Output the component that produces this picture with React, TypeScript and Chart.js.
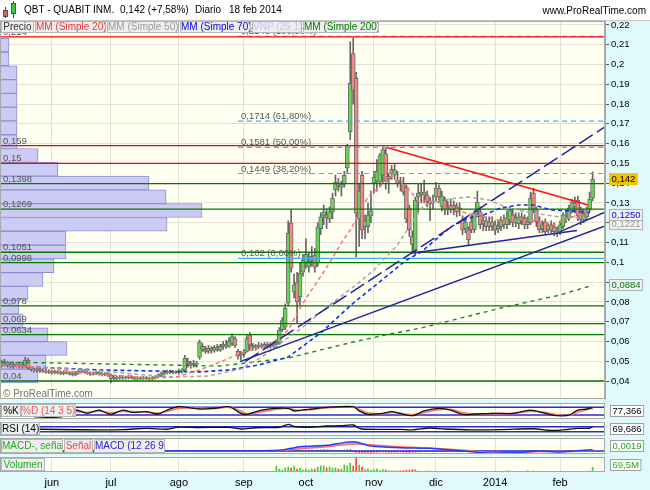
import React, { useEffect, useRef } from "react";
import { Chart, registerables } from "chart.js";

Chart.register(...registerables);

const FONT = '"Liberation Sans", Arial, Helvetica, sans-serif';
Chart.defaults.font.family = FONT;
const BG_PLOT = "#fffff2";
const BG_AXIS = "#e0f9fb";

// ---------- time axis ----------
const monthIdx = [17, 37, 60, 82, 103, 126, 147, 167, 189];
const monthLabels = ["jun", "jul", "ago", "sep", "oct", "nov", "dic", "2014", "feb"];
const X_MIN = -0.52;
const X_MAX = 204.2;

// ---------- price axis ----------
const Y_MIN = 0.0309;
const Y_MAX = 0.222;
const priceTicks = [0.04, 0.05, 0.06, 0.07, 0.08, 0.09, 0.1, 0.11, 0.12, 0.13, 0.14, 0.15, 0.16, 0.17, 0.18, 0.19, 0.2, 0.21, 0.22];
const priceTickLabels = ["0,04", "0,05", "0,06", "0,07", "0,08", "0,09", "0,1", "0,11", "0,12", "0,13", "0,14", "0,15", "0,16", "0,17", "0,18", "0,19", "0,2", "0,21", "0,22"];

// ---------- daily OHLC (9 may 2013 .. 18 feb 2014) ----------
const opens = [
  0.049, 0.0485, 0.0495, 0.048, 0.0475, 0.0485, 0.048, 0.0475, 0.048, 0.0505,
  0.0465, 0.046, 0.0455, 0.0458, 0.045, 0.0452, 0.0445, 0.0448, 0.0442, 0.0447,
  0.0443, 0.0438, 0.0445, 0.0443, 0.0437, 0.0432, 0.044, 0.0448, 0.0452, 0.0445,
  0.044, 0.0435, 0.0439, 0.0442, 0.0436, 0.0433, 0.0437, 0.0431, 0.0412, 0.0418,
  0.0414, 0.042, 0.0415, 0.0418, 0.0422, 0.0416, 0.0412, 0.0416, 0.0413, 0.0417,
  0.0414, 0.0411, 0.0415, 0.0421, 0.0428, 0.0436, 0.0443, 0.0447, 0.0442, 0.0446,
  0.0443, 0.045, 0.0456, 0.05, 0.049, 0.048, 0.049, 0.052, 0.0575, 0.056,
  0.055, 0.0565, 0.0555, 0.057, 0.0555, 0.0575, 0.0585, 0.0575, 0.059, 0.0615,
  0.055, 0.053, 0.0535, 0.055, 0.0633, 0.058, 0.057, 0.0575, 0.058, 0.0575,
  0.0585, 0.0575, 0.058, 0.0585, 0.0592, 0.066, 0.0673, 0.0794, 0.12, 0.085,
  0.09, 0.0825, 0.095, 0.1, 0.0975, 0.101, 0.1037, 0.0997, 0.117, 0.1235,
  0.124, 0.122, 0.1255, 0.1366, 0.14, 0.138, 0.1395, 0.1477, 0.166, 0.2055,
  0.193, 0.122, 0.144, 0.118, 0.118, 0.1235, 0.14, 0.141, 0.1406, 0.144,
  0.155, 0.142, 0.147, 0.144, 0.1416, 0.141, 0.14, 0.138, 0.1275, 0.113,
  0.106, 0.133, 0.1345, 0.1355, 0.134, 0.131, 0.13, 0.133, 0.1375, 0.128,
  0.1315, 0.128, 0.1265, 0.129, 0.128, 0.1265, 0.1214, 0.117, 0.1163, 0.1205,
  0.1165, 0.1255, 0.1255, 0.1195, 0.121, 0.1205, 0.118, 0.119, 0.117, 0.118,
  0.1214, 0.119, 0.1214, 0.124, 0.12, 0.1195, 0.123, 0.1224, 0.119, 0.12,
  0.135, 0.1265, 0.1205, 0.117, 0.1205, 0.119, 0.1163, 0.118, 0.1155, 0.1155,
  0.118, 0.123, 0.1225, 0.126, 0.13, 0.1315, 0.1265, 0.1214, 0.123, 0.127,
  0.1325,
];
const highs = [
  0.0505, 0.051, 0.05, 0.049, 0.0495, 0.0495, 0.049, 0.0495, 0.052, 0.0515,
  0.047, 0.0465, 0.047, 0.0465, 0.046, 0.046, 0.0458, 0.0455, 0.0455, 0.0452,
  0.0448, 0.0452, 0.0455, 0.0448, 0.0442, 0.0447, 0.0458, 0.046, 0.0458, 0.045,
  0.0446, 0.0445, 0.0449, 0.0447, 0.0442, 0.0443, 0.0441, 0.0435, 0.0425, 0.0424,
  0.0428, 0.0426, 0.0425, 0.043, 0.0428, 0.0422, 0.0422, 0.0422, 0.0424, 0.0423,
  0.042, 0.0422, 0.0428, 0.0436, 0.0445, 0.045, 0.0455, 0.0455, 0.0453, 0.0452,
  0.046, 0.0462, 0.053, 0.0515, 0.05, 0.0505, 0.05, 0.0607, 0.059, 0.0575,
  0.058, 0.0575, 0.058, 0.0585, 0.0585, 0.06, 0.0605, 0.062, 0.064, 0.0625,
  0.056, 0.055, 0.056, 0.063, 0.0645, 0.059, 0.0585, 0.0595, 0.059, 0.0595,
  0.0595, 0.0595, 0.06, 0.061, 0.067, 0.072, 0.079, 0.121, 0.1265, 0.094,
  0.095, 0.1, 0.104, 0.112, 0.105, 0.108, 0.107, 0.12, 0.125, 0.129,
  0.127, 0.128, 0.135, 0.1441, 0.1425, 0.141, 0.146, 0.1597, 0.2115, 0.2134,
  0.196, 0.14, 0.146, 0.124, 0.13, 0.136, 0.146, 0.152, 0.155, 0.1585,
  0.158, 0.145, 0.149, 0.15, 0.146, 0.143, 0.143, 0.139, 0.129, 0.116,
  0.133, 0.1395, 0.14, 0.1416, 0.136, 0.133, 0.134, 0.1405, 0.139, 0.136,
  0.133, 0.131, 0.132, 0.131, 0.13, 0.13, 0.1235, 0.122, 0.118, 0.124,
  0.126, 0.136, 0.128, 0.124, 0.123, 0.123, 0.123, 0.121, 0.121, 0.123,
  0.124, 0.126, 0.128, 0.127, 0.125, 0.125, 0.125, 0.124, 0.123, 0.1355,
  0.1375, 0.128, 0.123, 0.121, 0.122, 0.12, 0.121, 0.12, 0.118, 0.121,
  0.125, 0.126, 0.129, 0.132, 0.133, 0.1335, 0.128, 0.127, 0.128, 0.1355,
  0.1457,
];
const lows = [
  0.047, 0.0475, 0.047, 0.0465, 0.0465, 0.047, 0.0465, 0.0465, 0.0475, 0.046,
  0.045, 0.0445, 0.0445, 0.0442, 0.0443, 0.0438, 0.0438, 0.0435, 0.0436, 0.0436,
  0.0432, 0.0432, 0.0435, 0.043, 0.0425, 0.0427, 0.0435, 0.0442, 0.044, 0.0434,
  0.0428, 0.043, 0.0432, 0.043, 0.0426, 0.0427, 0.0423, 0.039, 0.0405, 0.0406,
  0.0408, 0.0408, 0.0408, 0.041, 0.041, 0.0405, 0.0404, 0.0406, 0.0407, 0.0408,
  0.0404, 0.0405, 0.041, 0.0415, 0.0422, 0.043, 0.0436, 0.0436, 0.0436, 0.0437,
  0.0435, 0.044, 0.045, 0.047, 0.0465, 0.047, 0.047, 0.051, 0.055, 0.054,
  0.054, 0.054, 0.0545, 0.055, 0.055, 0.056, 0.0565, 0.057, 0.058, 0.057,
  0.051, 0.0505, 0.052, 0.0545, 0.0555, 0.0555, 0.0555, 0.0565, 0.0565, 0.0565,
  0.0565, 0.0565, 0.057, 0.057, 0.0585, 0.065, 0.066, 0.078, 0.095, 0.082,
  0.069, 0.078, 0.093, 0.097, 0.095, 0.098, 0.095, 0.098, 0.114, 0.119,
  0.117, 0.12, 0.122, 0.1335, 0.136, 0.1335, 0.138, 0.145, 0.162, 0.18,
  0.1027, 0.108, 0.112, 0.112, 0.115, 0.12, 0.135, 0.136, 0.138, 0.14,
  0.137, 0.135, 0.142, 0.142, 0.138, 0.136, 0.134, 0.12, 0.113, 0.1045,
  0.104, 0.1255, 0.13, 0.13, 0.128, 0.121, 0.127, 0.131, 0.13, 0.126,
  0.124, 0.124, 0.125, 0.124, 0.123, 0.1235, 0.114, 0.115, 0.1088, 0.115,
  0.115, 0.124, 0.117, 0.116, 0.116, 0.116, 0.116, 0.114, 0.115, 0.116,
  0.117, 0.117, 0.119, 0.118, 0.118, 0.117, 0.119, 0.117, 0.117, 0.119,
  0.125, 0.118, 0.115, 0.115, 0.114, 0.115, 0.115, 0.1135, 0.113, 0.114,
  0.117, 0.12, 0.121, 0.125, 0.125, 0.121, 0.119, 0.12, 0.121, 0.1255,
  0.131,
];
const closes = [
  0.0485, 0.0495, 0.048, 0.0475, 0.0485, 0.048, 0.0475, 0.048, 0.0505, 0.0465,
  0.046, 0.0455, 0.0458, 0.045, 0.0452, 0.0445, 0.0448, 0.0442, 0.0447, 0.0443,
  0.0438, 0.0445, 0.0443, 0.0437, 0.0432, 0.044, 0.0448, 0.0452, 0.0445, 0.044,
  0.0435, 0.0439, 0.0442, 0.0436, 0.0433, 0.0437, 0.0431, 0.0412, 0.0418, 0.0414,
  0.042, 0.0415, 0.0418, 0.0422, 0.0416, 0.0412, 0.0416, 0.0413, 0.0417, 0.0414,
  0.0411, 0.0415, 0.0421, 0.0428, 0.0436, 0.0443, 0.0447, 0.0442, 0.0446, 0.0443,
  0.045, 0.0455, 0.0516, 0.049, 0.048, 0.049, 0.0485, 0.0597, 0.056, 0.055,
  0.0565, 0.0555, 0.057, 0.056, 0.0575, 0.0585, 0.0575, 0.06, 0.0625, 0.058,
  0.0525, 0.0535, 0.0545, 0.0615, 0.0582, 0.057, 0.0575, 0.058, 0.0575, 0.0585,
  0.0575, 0.0585, 0.0585, 0.059, 0.0658, 0.0705, 0.0769, 0.1148, 0.097, 0.0885,
  0.08, 0.0946, 0.101, 0.104, 0.1005, 0.103, 0.0976, 0.118, 0.123, 0.1255,
  0.1225, 0.1255, 0.1325, 0.1406, 0.1385, 0.1395, 0.1441, 0.1593, 0.1905, 0.187,
  0.125, 0.136, 0.1163, 0.121, 0.124, 0.126, 0.143, 0.146, 0.154, 0.157,
  0.141, 0.1435, 0.145, 0.1467, 0.14, 0.1405, 0.1355, 0.122, 0.1165, 0.109,
  0.1315, 0.135, 0.1355, 0.134, 0.1305, 0.1295, 0.131, 0.1375, 0.133, 0.1335,
  0.1265, 0.1265, 0.129, 0.127, 0.1255, 0.1275, 0.1163, 0.1205, 0.1113, 0.1165,
  0.125, 0.1305, 0.119, 0.121, 0.118, 0.118, 0.1205, 0.1163, 0.1185, 0.1214,
  0.119, 0.1225, 0.1265, 0.12, 0.1225, 0.123, 0.121, 0.119, 0.1205, 0.1325,
  0.127, 0.1205, 0.1165, 0.119, 0.1155, 0.1163, 0.119, 0.1155, 0.116, 0.119,
  0.124, 0.1225, 0.1275, 0.1305, 0.128, 0.1234, 0.1214, 0.1245, 0.126, 0.132,
  0.142,
];
// volume, millions of shares
const volumes = [
  4, 3, 5, 3, 4, 3, 3, 4, 6, 18,
  3, 4, 3, 2, 3, 4, 3, 3, 2, 3,
  4, 3, 3, 2, 3, 3, 4, 3, 2, 3,
  3, 4, 3, 3, 2, 3, 3, 4, 3, 2,
  3, 3, 4, 3, 2, 3, 3, 4, 3, 3,
  2, 3, 3, 4, 10, 6, 4, 4, 5, 4,
  4, 5, 14, 5, 4, 4, 5, 12, 5, 4,
  6, 4, 5, 4, 6, 5, 4, 6, 8, 6,
  12, 5, 4, 6, 5, 4, 5, 6, 4, 5,
  6, 5, 8, 90, 45, 30, 60, 75, 60, 90,
  45, 60, 30, 45, 30, 45, 45, 75, 90, 90,
  60, 75, 60, 60, 45, 45, 105, 90, 133, 90,
  205, 105, 75, 37, 45, 30, 37, 45, 22, 37,
  30, 20, 15, 20, 15, 18, 20, 30, 30, 37,
  37, 15, 12, 10, 12, 14, 10, 12, 10, 8,
  10, 8, 6, 8, 6, 8, 6, 5, 12, 6,
  5, 8, 5, 4, 5, 4, 3, 5, 4, 6,
  8, 18, 12, 6, 5, 4, 5, 6, 20, 6,
  14, 8, 6, 12, 5, 5, 4, 6, 5, 8,
  10, 6, 8, 10, 8, 6, 8, 10, 12, 16,
  69.5,
];

// ---------- moving averages ----------
const ma20Idx = [0, 16, 27, 37, 50, 59, 67, 74, 82, 91, 97, 102, 111, 115, 118, 124, 132, 137, 141, 148, 156, 168, 179, 187, 192, 200];
const ma20Val = [0.048, 0.0466, 0.044, 0.043, 0.0415, 0.042, 0.0456, 0.0496, 0.0547, 0.0582, 0.0658, 0.0794, 0.0997, 0.1098, 0.1163, 0.133, 0.1435, 0.138, 0.1315, 0.1305, 0.1254, 0.1214, 0.1214, 0.1189, 0.1224, 0.1265];
const ma50Idx = [0, 33, 57, 70, 81, 88, 102, 111, 119, 126, 134, 139, 143, 148, 158, 165, 171, 180, 189, 200];
const ma50Val = [0.0481, 0.0451, 0.042, 0.0425, 0.0461, 0.0521, 0.0673, 0.0784, 0.0875, 0.0961, 0.1088, 0.1204, 0.129, 0.1315, 0.133, 0.1315, 0.1275, 0.1249, 0.1229, 0.1221];
const ma70Idx = [0, 10, 33, 67, 77, 87, 97, 108, 119, 130, 137, 142, 146, 152, 158, 163, 169, 175, 180, 186, 192, 200];
const ma70Val = [0.0481, 0.0471, 0.0456, 0.0446, 0.0456, 0.0481, 0.0521, 0.0643, 0.0794, 0.0926, 0.1012, 0.1052, 0.1103, 0.1179, 0.1224, 0.1239, 0.1275, 0.129, 0.129, 0.1265, 0.126, 0.125];
const ma200Idx = [0, 37, 74, 97, 108, 119, 130, 142, 169, 189, 200];
const ma200Val = [0.0496, 0.0486, 0.0476, 0.0516, 0.0557, 0.0597, 0.0633, 0.0668, 0.0769, 0.0835, 0.0884];

// ---------- horizontal levels ----------
const hLevels = [0.214, 0.159, 0.15, 0.1398, 0.1269, 0.1051, 0.0998, 0.078, 0.069, 0.0634, 0.04];
const hColors = ["#ff0000", "#ff0000", "#ff0000", "#007a00", "#007a00", "#007a00", "#007a00", "#007a00", "#007a00", "#007a00", "#007a00"];

// ---------- Fibonacci retracement ----------
const fibStartIdx = 80;
const fibLevels = [0.2143, 0.1714, 0.1581, 0.1449, 0.102];
const fibPct = ["100,00%", "61,80%", "50,00%", "38,20%", "0,00%"];

// ---------- trend lines ----------
const trendFromIdx = [80.7, 82.4, 139.3, 189, 130.4];
const trendFromVal = [0.0498, 0.0498, 0.1047, 0.1155, 0.158];
const trendToIdx = [204.2, 204.2, 194.7, 204.2, 198.5];
const trendToVal = [0.1184, 0.1685, 0.1161, 0.1254, 0.129];
const trendColors = ["#2323a0", "#2323a0", "#2323a0", "#2323a0", "#ff1010"];
const trendDashes = [[], [16, 5], [], [], []];

// ---------- volume profile (VNP 25) ----------
const profileLow = 0.039;
const profileStep = 0.006972;
const profileVol = [38, 46, 67, 48, 23, 19, 28, 43, 54, 66, 66, 167, 202, 166, 149, 58, 38, 17, 17, 17, 17, 17, 17, 9, 9];

// ---------- indicators ----------
const stochIdx = [11, 20, 25, 29, 33, 37, 41, 44, 49, 53, 56, 60, 67, 72, 77, 81, 83, 88, 93, 97, 99, 101, 105, 109, 119, 121, 124, 129, 132, 139, 143, 148, 152, 156, 160, 166, 173, 179, 184, 188, 192, 195, 198, 200];
const stochK = [7, 5, 59, 33, 59, 25, 59, 41, 46, 28, 59, 85, 67, 72, 85, 33, 25, 59, 72, 72, 52, 56, 67, 78, 85, 52, 25, 33, 46, 15, 52, 72, 59, 25, 28, 33, 33, 59, 33, 15, 20, 59, 67, 77.366];
const stochD = [9, 7, 45, 42, 50, 38, 48, 48, 44, 36, 48, 72, 74, 70, 80, 52, 32, 44, 65, 72, 62, 55, 62, 74, 82, 66, 38, 30, 40, 24, 38, 62, 64, 40, 28, 31, 33, 48, 42, 22, 18, 42, 62, 72];

const rsiIdx = [0, 13, 27, 41, 49, 56, 60, 67, 77, 81, 86, 94, 97, 99, 104, 110, 115, 119, 121, 123, 135, 139, 145, 150, 159, 169, 180, 185, 188, 192, 195, 199, 200];
const rsiVal = [50, 50, 46, 47, 57, 50, 67, 64, 65, 52, 62, 66, 89, 72, 66, 76, 78, 84, 57, 50, 49, 45, 60, 52, 45, 47, 54, 42, 41, 50, 57, 58, 69.686];

const macdIdx = [0, 20, 40, 56, 67, 81, 94, 98, 101, 110, 119, 125, 135, 145, 152, 159, 165, 175, 182, 189, 194, 200];
const macdVal = [-0.0005, -0.001, -0.001, 0, 0.0005, 0.0003, 0.001, 0.004, 0.0065, 0.0085, 0.014, 0.0075, 0.005, 0.004, 0.0015, -0.001, -0.0035, -0.002, 0, -0.0015, 0, 0.0019];
const signalVal = [-0.0004, -0.0009, -0.001, -0.0003, 0.0003, 0.0004, 0.0007, 0.0018, 0.0035, 0.0065, 0.0105, 0.0095, 0.0062, 0.0045, 0.0025, 0.0003, -0.0022, -0.0024, -0.0008, -0.0009, -0.0004, 0.0012];
const macdHist = [
  0, 0, 0, 0, 0, 0, 0, 0, 0, 0,
  -0.0004, -0.0003, -0.0005, -0.0003, -0.0004, -0.0006, -0.0003, -0.0004, -0.0003, -0.0005,
  -0.0004, -0.0003, -0.0006, -0.0004, -0.0003, -0.0004, -0.0005, -0.0003, -0.0004, -0.0006,
  -0.0003, -0.0004, -0.0005, -0.0003, -0.0004, -0.0006, -0.0004, -0.0003, -0.0005, -0.0004,
  -0.0006, -0.0004, -0.0003, -0.0005, -0.0004, -0.0003, -0.0006, -0.0004, -0.0003, -0.0002,
  -0.0002, -0.0001, -0.0001, 0, 0.0004, 0.0004, 0.0004, 0.0004, 0.0004, 0.0004,
  0.0004, 0.0004, 0.0002, 0.0003, 0.0002, 0.0001, 0.0001, 0.0003, 0.0002, 0.0001,
  0.0001, 0, 0.0001, 0, 0.0001, 0, 0, -0.0001, -0.0003, -0.0004,
  -0.0006, -0.0005, -0.0004, -0.0003, -0.0005, -0.0004, -0.0003, -0.0004, -0.0005, -0.0004,
  -0.0003, -0.0004, -0.0003, -0.0002, -0.0001, 0, 0.0015, 0.002, 0.0025, 0.002,
  0.0015, 0.0012, 0.001, 0.0012, 0.0015, 0.0012, 0.001, 0.0015, 0.002, 0.0022,
  0.002, 0.0018, 0.0015, 0.0012, 0.001, 0.0012, 0.0015, 0.002, 0.0025, -0.001,
  -0.002, -0.0025, -0.003, -0.003, -0.0028, -0.0025, -0.002, -0.0018, -0.0015, -0.0015,
  -0.0018, -0.002, -0.0022, -0.002, -0.0018, -0.0015, -0.0018, -0.0022, -0.0025, -0.002,
  -0.0018, -0.0015, -0.0012, -0.001, -0.001, -0.0008, -0.0008, -0.0005, -0.0005, -0.0005,
  -0.0005, -0.0005, -0.0005, -0.0005, -0.0005, -0.0005, -0.0005, -0.0005, -0.0005, -0.0005,
  -0.0005, -0.0005, -0.0005, -0.0005, -0.0005, -0.0005, 0, 0, 0, 0,
  0.0005, 0.0005, 0.0005, 0.0005, 0.0005, 0.0005, 0.0005, 0.0005, 0.0005, 0.0005,
  0.0005, 0.0005, 0.0005, 0.0005, 0.0005, 0.0005, -0.0004, -0.0004, -0.0004, -0.0004,
  -0.0004, 0.0005, 0.0005, 0.0005, 0.0005, 0.0005, 0.0005, 0.0005, 0.0005, 0.0005,
  0.0005,
];

// ---------- helpers ----------
const days = closes.map((_, i) => i);
const last = (a: number[]) => a[a.length - 1];
const comma = (v: number) => String(v).replace(".", ",");
const fixedComma = (v: number, d: number) => v.toFixed(d).replace(".", ",");
const hline = (v: number) => [{ x: X_MIN, y: v }, { x: X_MAX, y: v }];
const zip = (idx: number[], val: number[]) => idx.map((x, k) => ({ x, y: val[k] }));

function lineDs(data: any[], color: string, width: number, dash: number[], order: number, extra: any = {}) {
  return { type: "line", data, borderColor: color, borderWidth: width, borderDash: dash, pointRadius: 0, fill: false, order, tension: 0, ...extra };
}

function baseX(showLabels: boolean): any {
  return {
    type: "linear",
    min: X_MIN,
    max: X_MAX,
    offset: false,
    afterBuildTicks: (s: any) => {
      s.ticks = monthIdx.map((v) => ({ value: v }));
    },
    afterFit: (s: any) => {
      s.height = showLabels ? 18 : 0;
      s.paddingLeft = 0;
      s.paddingRight = 0;
    },
    grid: { color: "#e2e2d6", drawTicks: false, offset: false, lineWidth: 1 },
    border: { display: false },
    ticks: {
      display: showLabels,
      autoSkip: false,
      maxRotation: 0,
      padding: 4,
      color: "#000",
      font: { family: FONT, size: 11 },
      callback: (_v: any, i: number) => monthLabels[i],
    },
  };
}

function subY(min: number, max: number): any {
  return {
    type: "linear",
    position: "right",
    min,
    max,
    offset: false,
    ticks: { display: false },
    grid: { display: false },
    border: { display: false },
    afterFit: (s: any) => {
      s.width = 45;
      s.paddingTop = 0;
      s.paddingBottom = 0;
    },
  };
}

function common(padding: any, pluginOpts: any): any {
  return {
    responsive: false,
    animation: false,
    devicePixelRatio: 1,
    events: [],
    layout: { padding, autoPadding: false },
    plugins: { legend: { display: false }, tooltip: { enabled: false }, ...pluginOpts },
  };
}

// ---------- plugins ----------
const bgPlugin = {
  id: "panelBg",
  beforeDraw(chart: any, _a: any, opts: any) {
    const { ctx, chartArea: a, width, height } = chart;
    ctx.save();
    ctx.fillStyle = BG_AXIS;
    ctx.fillRect(0, 0, width, height);
    if (opts && opts.headerWhite) {
      ctx.fillStyle = "#ffffff";
      ctx.fillRect(0, 0, width, a.top);
      ctx.fillStyle = "#c4c4c4";
      ctx.fillRect(0, a.top - 1, width, 1);
    }
    ctx.fillStyle = BG_PLOT;
    ctx.fillRect(a.left, a.top, a.right - a.left, a.bottom - a.top);
    ctx.restore();
  },
  afterDatasetsDraw(chart: any) {
    const { ctx, chartArea: a } = chart;
    ctx.save();
    ctx.strokeStyle = "#a9a9a9";
    ctx.lineWidth = 1;
    ctx.strokeRect(a.left + 0.5, a.top + 0.5, a.right - a.left - 1, a.bottom - a.top - 1);
    ctx.restore();
  },
};

const levelLabelPlugin = {
  id: "levelLabels",
  afterDatasetsDraw(chart: any) {
    const { ctx } = chart;
    const ys = chart.scales.y;
    const xs = chart.scales.x;
    ctx.save();
    ctx.font = `9.5px ${FONT}`;
    ctx.fillStyle = "#555";
    ctx.textBaseline = "alphabetic";
    hLevels.forEach((v) => ctx.fillText(comma(v), 3, ys.getPixelForValue(v) - 2));
    const fx = xs.getPixelForValue(fibStartIdx) + 3;
    fibLevels.forEach((v, k) => ctx.fillText(`${comma(v)} (${fibPct[k]})`, fx, ys.getPixelForValue(v) - 2));
    ctx.restore();
  },
};

function drawBox(ctx: any, x: number, yc: number, text: string, color: string, bg: string, border: string | null) {
  ctx.font = `9.5px ${FONT}`;
  const w = ctx.measureText(text).width + 5;
  const h = 12;
  const y = Math.round(yc - h / 2);
  ctx.fillStyle = bg;
  ctx.fillRect(x, y, w, h);
  if (border) {
    ctx.strokeStyle = border;
    ctx.lineWidth = 1;
    ctx.strokeRect(x + 0.5, y + 0.5, w - 1, h - 1);
  }
  ctx.fillStyle = color;
  ctx.textBaseline = "middle";
  ctx.fillText(text, x + 2.5, y + h / 2 + 0.5);
}

const mainValuePlugin = {
  id: "mainValues",
  afterDraw(chart: any) {
    const { ctx, chartArea: a } = chart;
    const ys = chart.scales.y;
    const x = a.right + 4;
    ctx.save();
    drawBox(ctx, x, ys.getPixelForValue(last(ma50Val)) + 5, fixedComma(last(ma50Val), 4), "#9a9a9a", "#f2f2f2", "#b0b0b0");
    drawBox(ctx, x, ys.getPixelForValue(last(ma70Val)) + 2, fixedComma(last(ma70Val), 4), "#0000ee", "#f2f2f2", "#b0b0b0");
    drawBox(ctx, x, ys.getPixelForValue(last(ma200Val)), fixedComma(last(ma200Val), 4), "#007a00", "#f2f2f2", "#b0b0b0");
    drawBox(ctx, x, ys.getPixelForValue(last(closes)), fixedComma(last(closes), 3), "#000", "#f5c400", null);
    ctx.restore();
  },
};

const sideValuePlugin = {
  id: "sideValue",
  afterDraw(chart: any, _a: any, opts: any) {
    if (!opts || !opts.text) return;
    const { ctx, chartArea: a } = chart;
    ctx.save();
    drawBox(ctx, a.right + 5, (a.top + a.bottom) / 2, opts.text, opts.color, "#ffffff", "#a0a0a0");
    ctx.restore();
  },
};

// ---------- chart configs ----------
function mainConfig(): any {
  const datasets: any[] = [
    {
      type: "bar",
      label: "VNP",
      indexAxis: "y",
      xAxisID: "xv",
      yAxisID: "yp",
      data: profileVol.map((v, k) => ({ x: v, y: profileLow + (k + 0.5) * profileStep })),
      backgroundColor: "#cbcbf3",
      borderColor: "#8e8ed2",
      borderWidth: 1,
      borderSkipped: false,
      barPercentage: 1,
      categoryPercentage: 1,
      grouped: false,
      order: 100,
    },
    {
      type: "bar",
      label: "wick",
      data: days.map((i) => ({ x: i, y: [lows[i], highs[i]] })),
      backgroundColor: "#666666",
      barThickness: 1,
      grouped: false,
      order: 61,
    },
    {
      type: "bar",
      label: "body",
      data: days.map((i) => ({ x: i, y: [opens[i], closes[i]] })),
      backgroundColor: days.map((i) => (closes[i] >= opens[i] ? "#66d65a" : "#f08a84")),
      borderColor: "#6a6a6a",
      borderWidth: 1,
      borderSkipped: false,
      barThickness: 4,
      grouped: false,
      order: 60,
    },
  ];
  fibLevels.forEach((v, k) =>
    datasets.push(lineDs([{ x: fibStartIdx, y: v }, { x: X_MAX, y: v }], "#3aaeff", 1.2, k === fibLevels.length - 1 ? [] : [5, 4], 55))
  );
  hLevels.forEach((v, k) => datasets.push(lineDs(hline(v), hColors[k], 1.3, [], 50)));
  datasets.push(lineDs(zip(ma200Idx, ma200Val), "#1a8a1a", 1.4, [4, 4], 30));
  datasets.push(lineDs(zip(ma70Idx, ma70Val), "#1030ff", 1.6, [4, 3], 29));
  datasets.push(lineDs(zip(ma50Idx, ma50Val), "#a6a6a6", 1.5, [4, 3], 28));
  datasets.push(lineDs(zip(ma20Idx, ma20Val), "#ff7070", 1.5, [4, 3], 27));
  trendFromIdx.forEach((x0, k) =>
    datasets.push(lineDs([{ x: x0, y: trendFromVal[k] }, { x: trendToIdx[k], y: trendToVal[k] }], trendColors[k], 1.5, trendDashes[k], 20))
  );

  return {
    type: "bar",
    data: { datasets },
    options: {
      ...common({ top: 21, bottom: 1, left: 0, right: 0 }, { panelBg: { headerWhite: true } }),
      scales: {
        x: baseX(false),
        xv: { type: "linear", display: false, min: 0, max: 605, offset: false },
        y: {
          type: "linear",
          position: "right",
          min: Y_MIN,
          max: Y_MAX,
          offset: false,
          afterBuildTicks: (s: any) => {
            s.ticks = priceTicks.map((v) => ({ value: v }));
          },
          afterFit: (s: any) => {
            s.width = 45;
            s.paddingTop = 0;
            s.paddingBottom = 0;
          },
          ticks: {
            color: "#000",
            padding: 2,
            font: { family: FONT, size: 9.5 },
            callback: (_v: any, i: number) => priceTickLabels[i],
          },
          grid: { color: "#e2e2d6", tickColor: "#555", tickLength: 4 },
          border: { display: true, color: "#a9a9a9" },
        },
        yp: { type: "linear", display: false, min: Y_MIN, max: Y_MAX, offset: false },
      },
    },
    plugins: [bgPlugin, levelLabelPlugin, mainValuePlugin],
  };
}

function stochConfig(): any {
  const K = zip(stochIdx, stochK);
  const D = zip(stochIdx, stochD);
  return {
    type: "line",
    data: {
      datasets: [
        lineDs(K, "#111111", 1.3, [], 0, { tension: 0.3 }),
        lineDs(D, "#ff7a7a", 1.6, [], 1, {
          tension: 0.3,
          fill: { target: 0, above: "rgba(255,130,130,0.55)", below: "rgba(130,130,255,0.45)" },
        }),
        lineDs(hline(80), "#2a2ad0", 1.5, [], 2),
        lineDs(hline(20), "#2a2ad0", 1.5, [], 2),
      ],
    },
    options: {
      ...common({ top: 3, bottom: 1, left: 0, right: 0 }, { sideValue: { text: fixedComma(last(stochK), 3), color: "#000" } }),
      scales: { x: baseX(false), y: subY(-11, 114) },
    },
    plugins: [bgPlugin, sideValuePlugin],
  };
}

function rsiConfig(): any {
  return {
    type: "line",
    data: {
      datasets: [
        lineDs(zip(rsiIdx, rsiVal), "#111111", 1.3, [], 0, { tension: 0.3 }),
        lineDs(hline(70), "#2a2ad0", 1.5, [], 2),
        lineDs(hline(30), "#2a2ad0", 1.5, [], 2),
      ],
    },
    options: {
      ...common({ top: 2, bottom: 1, left: 0, right: 0 }, { sideValue: { text: fixedComma(last(rsiVal), 3), color: "#000" } }),
      scales: { x: baseX(false), y: subY(-4, 108) },
    },
    plugins: [bgPlugin, sideValuePlugin],
  };
}

function macdConfig(): any {
  return {
    type: "bar",
    data: {
      datasets: [
        lineDs(zip(macdIdx, macdVal), "#2a3aff", 1.5, [], 0, { tension: 0.3 }),
        lineDs(zip(macdIdx, signalVal), "#ff6a6a", 1.5, [], 1, {
          tension: 0.3,
          fill: { target: 0, above: "rgba(255,130,130,0.5)", below: "rgba(130,130,255,0.45)" },
        }),
        lineDs(hline(0), "#2a2ad0", 1.5, [], 3),
        {
          type: "bar",
          data: days.map((i) => ({ x: i, y: macdHist[i] })),
          backgroundColor: days.map((i) => (macdHist[i] >= 0 ? "#3ccc3c" : "#ff5050")),
          barThickness: 1,
          grouped: false,
          order: 5,
        },
      ],
    },
    options: {
      ...common({ top: 1, bottom: 1, left: 0, right: 0 }, { sideValue: { text: fixedComma(last(macdVal), 4), color: "#22aa22" } }),
      scales: { x: baseX(false), y: subY(-0.0045, 0.0195) },
    },
    plugins: [bgPlugin, sideValuePlugin],
  };
}

function volConfig(): any {
  return {
    type: "bar",
    data: {
      datasets: [
        {
          type: "bar",
          data: days.map((i) => ({ x: i, y: volumes[i] })),
          backgroundColor: days.map((i) => (closes[i] >= opens[i] ? "#3ccc3c" : "#ff4040")),
          barThickness: 1,
          grouped: false,
        },
      ],
    },
    options: {
      ...common({ top: 2, bottom: 0, left: 0, right: 0 }, { sideValue: { text: fixedComma(last(volumes), 1) + "M", color: "#22aa22" } }),
      scales: { x: baseX(true), y: subY(0, 225) },
    },
    plugins: [bgPlugin, sideValuePlugin],
  };
}

// ---------- small UI pieces ----------
function Box(props: { left: number; top: number; width: number; height: number; color: string; text: string; size?: number }) {
  const { left, top, width, height, color, text, size } = props;
  return (
    <div
      style={{
        position: "absolute",
        left,
        top,
        width,
        height,
        boxSizing: "border-box",
        background: "#eeeeee",
        border: "1px solid #b6b6b6",
        color,
        fontSize: size || 10,
        lineHeight: `${height - 2}px`,
        textAlign: "center",
        whiteSpace: "nowrap",
        overflow: "hidden",
        fontFamily: FONT,
      }}
    >
      {text}
    </div>
  );
}

const pct = ((last(closes) / closes[closes.length - 2] - 1) * 100).toFixed(2).replace(".", ",");

export default function App() {
  const mainRef = useRef<HTMLCanvasElement>(null);
  const stochRef = useRef<HTMLCanvasElement>(null);
  const rsiRef = useRef<HTMLCanvasElement>(null);
  const macdRef = useRef<HTMLCanvasElement>(null);
  const volRef = useRef<HTMLCanvasElement>(null);

  useEffect(() => {
    const charts: Chart[] = [];
    charts.push(new Chart(mainRef.current as any, mainConfig()));
    charts.push(new Chart(stochRef.current as any, stochConfig()));
    charts.push(new Chart(rsiRef.current as any, rsiConfig()));
    charts.push(new Chart(macdRef.current as any, macdConfig()));
    charts.push(new Chart(volRef.current as any, volConfig()));
    return () => charts.forEach((c) => c.destroy());
  }, []);

  const cv = (top: number, h: number): any => ({ position: "absolute", left: 0, top, width: 650, height: h, display: "block" });
  const txt: any = { position: "absolute", top: 4, fontSize: 10, lineHeight: "12px", color: "#000", whiteSpace: "nowrap", fontFamily: FONT };

  return (
    <div style={{ position: "absolute", left: 0, top: 0, width: 650, height: 490, overflow: "hidden", background: BG_AXIS, fontFamily: FONT }}>
      <canvas ref={mainRef} width={650} height={400} style={cv(0, 400)} />
      <canvas ref={stochRef} width={650} height={20} style={cv(400, 20)} />
      <canvas ref={rsiRef} width={650} height={17} style={cv(420, 17)} />
      <canvas ref={macdRef} width={650} height={18} style={cv(437, 18)} />
      <canvas ref={volRef} width={650} height={35} style={cv(455, 35)} />

      {/* header icon */}
      <div style={{ position: "absolute", left: 5, top: 7, width: 1, height: 11, background: "#444" }} />
      <div style={{ position: "absolute", left: 3, top: 10, width: 5, height: 7, background: "#e05a5a", border: "1px solid #555", boxSizing: "border-box" }} />
      <div style={{ position: "absolute", left: 13, top: 1, width: 1, height: 17, background: "#444" }} />
      <div style={{ position: "absolute", left: 11, top: 3, width: 5, height: 11, background: "#44c444", border: "1px solid #555", boxSizing: "border-box" }} />

      <div style={{ ...txt, left: 24 }}>QBT - QUABIT INM.</div>
      <div style={{ ...txt, left: 120 }}>{`${fixedComma(last(closes), 3)} (+${pct}%)`}</div>
      <div style={{ ...txt, left: 195 }}>Diario</div>
      <div style={{ ...txt, left: 229 }}>18 feb 2014</div>
      <div style={{ ...txt, right: 4, top: 5 }}>www.ProRealTime.com</div>

      {/* main legend */}
      <Box left={1} top={21} width={33} height={12} color="#333" text="Precio" />
      <Box left={35} top={21} width={71} height={12} color="#ee3333" text="MM (Simple 20)" />
      <Box left={107} top={21} width={72} height={12} color="#9c9c9c" text="MM (Simple 50)" />
      <Box left={180} top={21} width={71} height={12} color="#0000ee" text="MM (Simple 70)" />
      <Box left={252} top={21} width={50} height={12} color="#c4c4f0" text="VNP (25 1)" />
      <Box left={303} top={21} width={76} height={12} color="#007a00" text="MM (Simple 200)" />

      <div style={{ position: "absolute", left: 3, top: 388, fontSize: 10, color: "#707070", whiteSpace: "nowrap" }}>© ProRealTime.com</div>

      {/* sub legends */}
      <Box left={1} top={404} width={20} height={13} color="#000" text="%K" />
      <Box left={21} top={404} width={55} height={13} color="#ee5555" text="%D (14 3 5)" />
      <Box left={1} top={422} width={39} height={13} color="#000" text="RSI (14)" />
      <Box left={1} top={439} width={62} height={14} color="#22aa22" text="MACD-, señal" />
      <Box left={64} top={439} width={29} height={14} color="#ee4444" text="Señal" />
      <Box left={94} top={439} width={71} height={14} color="#2222dd" text="MACD (12 26 9)" />
      <Box left={1} top={458} width={44} height={13} color="#22aa22" text="Volumen" />
    </div>
  );
}
